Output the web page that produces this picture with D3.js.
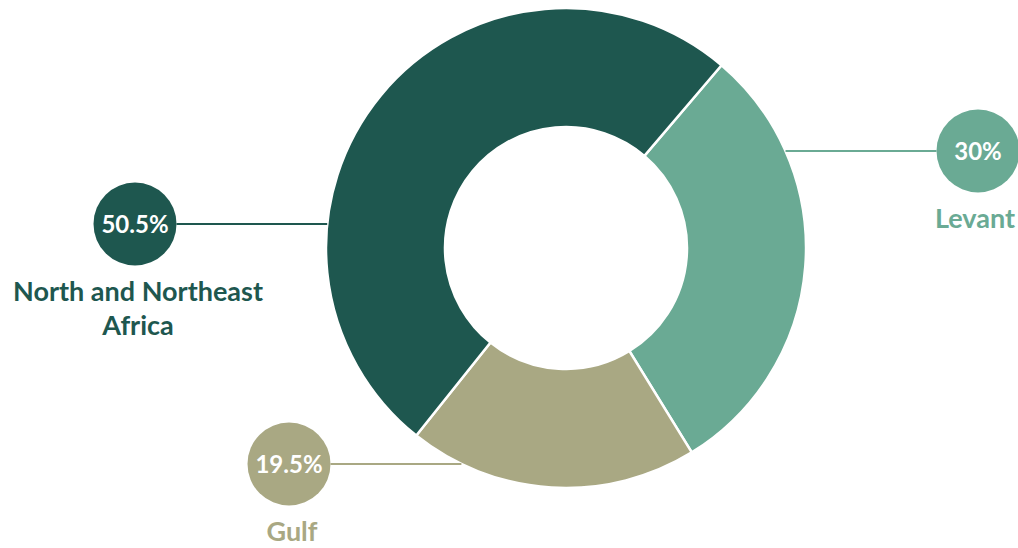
<!DOCTYPE html>
<html>
<head>
<meta charset="utf-8">
<script src="https://cdn.jsdelivr.net/npm/d3@7"></script>
<style>
  html, body { margin: 0; padding: 0; background: #fff; }
  svg { display: block; }
</style>
</head>
<body>
<svg id="chart" width="1018" height="548"></svg>
<script>
// Regional shares (percent), in drawing order clockwise
const regions = ["Levant", "Gulf", "North and Northeast Africa"];
const shares = [30, 19.5, 50.5];
const colors = ["#6aaa94", "#a9a883", "#1e574f"];
// Label lines as they wrap under each bubble
const labelLines = [["Levant"], ["Gulf"], ["North and Northeast", "Africa"]];

const width = 1018, height = 548;
const cx = 566, cy = 248;
const outerR = 240, innerR = 121;
const startDeg = 40.4;

const svg = d3.select("#chart");
const g = svg.append("g").attr("transform", `translate(${cx},${cy})`);

const data = regions.map((r, i) => ({ region: r, value: shares[i], color: colors[i], lines: labelLines[i] }));

const pie = d3.pie()
  .value(d => d.value)
  .sort(null)
  .startAngle(startDeg * Math.PI / 180)
  .endAngle(startDeg * Math.PI / 180 + 2 * Math.PI);

const arc = d3.arc().innerRadius(innerR).outerRadius(outerR);
const arcs = pie(data);

g.selectAll("path.slice")
  .data(arcs)
  .join("path")
  .attr("class", "slice")
  .attr("d", arc)
  .attr("fill", d => d.data.color)
  .attr("stroke", "#fff")
  .attr("stroke-width", 2.5)
  .attr("stroke-linejoin", "miter");

// Callout layout: vertical offset of the leader line from the centre,
// and the horizontal centre of the bubble (relative to donut centre)
const callouts = {
  "Levant": { dy: -97, bx: 412 },
  "Gulf": { dy: 216, bx: -277 },
  "North and Northeast Africa": { dy: -24, bx: -431 }
};
const bubbleR = 41.5;

const fmt = v => (Number.isInteger(v) ? d3.format("d")(v) : d3.format(".1f")(v)) + "%";

arcs.forEach(a => {
  const c = callouts[a.data.region];
  const side = c.bx > 0 ? 1 : -1;
  const edgeX = side * Math.sqrt(outerR * outerR - c.dy * c.dy);
  const lineEnd = c.bx - side * bubbleR;

  g.append("line")
    .attr("x1", edgeX).attr("y1", c.dy)
    .attr("x2", lineEnd).attr("y2", c.dy)
    .attr("stroke", a.data.color)
    .attr("stroke-width", 2.2);

  g.append("circle")
    .attr("cx", c.bx).attr("cy", c.dy)
    .attr("r", bubbleR)
    .attr("fill", a.data.color);

  g.append("text")
    .attr("x", c.bx).attr("y", c.dy)
    .attr("dy", "0.36em")
    .attr("text-anchor", "middle")
    .attr("fill", "#fff")
    .attr("font-family", "Lato, 'Open Sans', sans-serif")
    .attr("font-weight", 700)
    .attr("font-size", 24)
    .text(fmt(a.data.value));

  const label = g.append("text")
    .attr("text-anchor", "middle")
    .attr("fill", a.data.color)
    .attr("font-family", "Lato, 'Open Sans', sans-serif")
    .attr("font-weight", 700)
    .attr("font-size", 27);
  a.data.lines.forEach((ln, i) => {
    label.append("tspan")
      .attr("x", c.bx - side * 3)
      .attr("y", c.dy + 77 + i * 34)
      .text(ln);
  });
});
</script>
</body>
</html>
